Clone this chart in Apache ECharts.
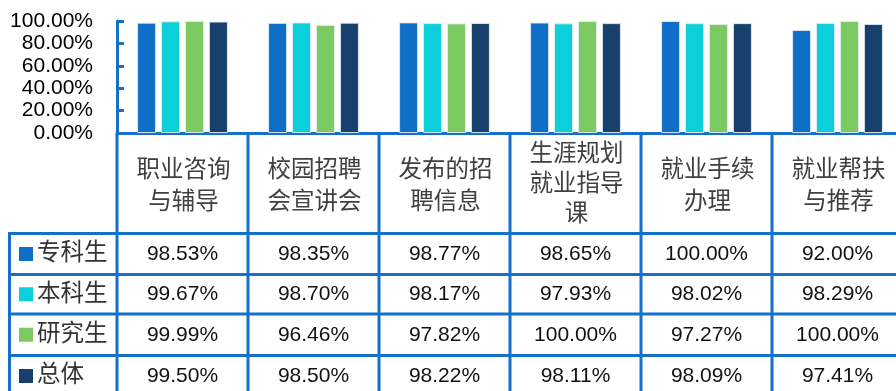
<!DOCTYPE html>
<html>
<head>
<meta charset="utf-8">
<script src="https://cdn.jsdelivr.net/npm/echarts@6/dist/echarts.min.js"></script>
<style>
  html, body { margin: 0; padding: 0; background: #fff; overflow: hidden; }
  /* the last column runs a little past the right edge of the window */
  #chart { width: 904px; height: 391px; }
</style>
</head>
<body>
<div id="chart"></div>
<script>
// Service categories (column headers of the data table)
const categories = ['职业咨询\n与辅导', '校园招聘\n会宣讲会', '发布的招\n聘信息', '生涯规划\n就业指导\n课', '就业手续\n办理', '就业帮扶\n与推荐'];
// Respondent groups
const seriesNames = ['专科生', '本科生', '研究生', '总体'];
// Satisfaction rate (%) per group
const zhuanke = [98.53, 98.35, 98.77, 98.65, 100.00, 92.00];
const benke   = [99.67, 98.70, 98.17, 97.93, 98.02, 98.29];
const yanjiu  = [99.99, 96.46, 97.82, 100.00, 97.27, 100.00];
const zongti  = [99.50, 98.50, 98.22, 98.11, 98.09, 97.41];
// Value axis ticks
const yTicks = [0, 20, 40, 60, 80, 100];

const seriesData = [zhuanke, benke, yanjiu, zongti];
const colors = ['#0F6FC6', '#0BD0D9', '#7CCA62', '#17406D'];
const lineColor = '#1470C8';
const FONT = '"Liberation Sans", "Noto Sans CJK SC", sans-serif';

const chart = echarts.init(document.getElementById('chart'), null, { renderer: 'canvas' });

const option = {
  animation: false,
  backgroundColor: '#fff',
  grid: { left: 117, top: 21, width: 786, height: 112, containLabel: false },
  xAxis: {
    type: 'category',
    data: categories,
    axisLine: { show: true, lineStyle: { color: lineColor, width: 3 } },
    axisTick: { show: false },
    axisLabel: { show: false },
    splitLine: { show: false }
  },
  yAxis: {
    type: 'value',
    min: yTicks[0],
    max: yTicks[yTicks.length - 1],
    interval: yTicks[1] - yTicks[0],
    axisLine: { show: true, lineStyle: { color: lineColor, width: 3 } },
    axisTick: { show: true, inside: true, length: 7, lineStyle: { color: lineColor, width: 3 } },
    axisLabel: {
      margin: 24,
      color: '#000',
      fontSize: 21,
      fontFamily: FONT,
      formatter: v => v.toFixed(2) + '%'
    },
    splitLine: { show: false }
  },
  series: seriesNames.map((name, i) => ({
    name: name,
    type: 'bar',
    data: seriesData[i],
    barWidth: 19,
    barGap: '26%',
    itemStyle: { color: colors[i], borderColor: 'rgba(225,235,245,0.9)', borderWidth: 1 }
  }))
};

chart.setOption(option);

// Data table under the plot, aligned to the category bands
function buildTable() {
  const n = categories.length;
  const c0 = chart.convertToPixel({ xAxisIndex: 0 }, 0);
  const c1 = chart.convertToPixel({ xAxisIndex: 0 }, 1);
  const band = c1 - c0;
  const yBase = chart.convertToPixel({ yAxisIndex: 0 }, 0);
  const W = chart.getWidth();
  const H = chart.getHeight();

  const headerTop = yBase + 0.5;
  const headerBottom = headerTop + 100;
  const rowH = [41, 39.5, 41.5, 41];
  const rowTops = [headerBottom];
  rowH.forEach((h, i) => rowTops.push(rowTops[i] + h));
  const legendLeft = 9.5;
  const plotLeft = c0 - band / 2;

  const els = [];
  const line = (x1, y1, x2, y2) => els.push({
    type: 'line', silent: true, z: 10,
    shape: { x1, y1, x2, y2 },
    style: { stroke: lineColor, lineWidth: 3 }
  });

  // vertical separators between category columns
  for (let i = 0; i <= n; i++) {
    const x = plotLeft + i * band;
    line(x, headerTop, x, H + 5);
  }
  // left edge of the legend column
  line(legendLeft, headerBottom, legendLeft, H + 5);
  // horizontal row separators
  for (let r = 0; r < rowTops.length; r++) {
    line(legendLeft - 1.5, rowTops[r], W + 5, rowTops[r]);
  }

  // header labels
  for (let i = 0; i < n; i++) {
    const cx = chart.convertToPixel({ xAxisIndex: 0 }, i);
    const lines = categories[i].split('\n').length;
    els.push({
      type: 'text', silent: true, z: 11,
      style: {
        text: categories[i], x: cx + 1, y: (headerTop + headerBottom) / 2 + (lines === 2 ? 3 : 1),
        align: 'center', verticalAlign: 'middle',
        fontSize: 23.5, fontFamily: FONT, lineHeight: lines === 2 ? 32 : 30, fill: '#404040'
      }
    });
  }

  // legend keys and values
  for (let s = 0; s < seriesNames.length; s++) {
    const cy = (rowTops[s] + rowTops[s + 1]) / 2;
    els.push({
      type: 'rect', silent: true, z: 11,
      shape: { x: 19, y: cy - 7, width: 14, height: 14 },
      style: { fill: colors[s] }
    });
    els.push({
      type: 'text', silent: true, z: 11,
      style: {
        text: seriesNames[s], x: 37, y: cy,
        align: 'left', verticalAlign: 'middle',
        fontSize: 23.5, fontFamily: FONT, fill: '#333'
      }
    });
    for (let i = 0; i < n; i++) {
      const cx = chart.convertToPixel({ xAxisIndex: 0 }, i);
      els.push({
        type: 'text', silent: true, z: 11,
        style: {
          text: seriesData[s][i].toFixed(2) + '%', x: cx, y: cy,
          align: 'center', verticalAlign: 'middle',
          fontSize: 21, fontFamily: FONT, fill: '#111'
        }
      });
    }
  }

  chart.setOption({ graphic: els });
}

buildTable();
</script>
</body>
</html>
